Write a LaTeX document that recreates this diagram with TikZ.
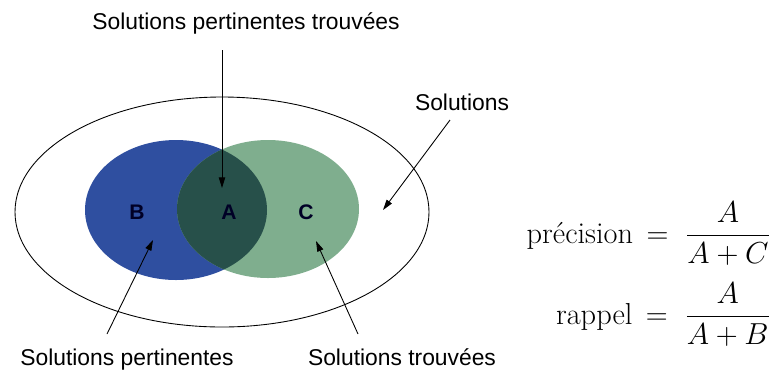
\documentclass[tikz,border=0pt]{standalone}
\usepackage{amsmath}
\usepackage{fontspec}
\newfontfamily\labelfont{Liberation Sans}
\usepackage{tikz}
\usetikzlibrary{arrows.meta}

\definecolor{pertblue}{HTML}{2F4FA0}
\definecolor{trouvgreen}{HTML}{7FAE8E}
\definecolor{bothteal}{HTML}{27504A}

\begin{document}
\begin{tikzpicture}[x=0.02cm, y=-0.02cm,
  lbl/.style={font=\labelfont\fontsize{13}{15}\selectfont, anchor=base},
  letter/.style={font=\labelfont\bfseries\fontsize{12}{14}\selectfont, text=black!85!blue},
  ptr/.style={-{Triangle[length=6pt,width=3.6pt]}, line width=0.5pt, black},
  formula/.style={font=\fontsize{17.28}{20}\selectfont, anchor=base east, inner sep=0pt}
]
\useasboundingbox (0,0) rectangle (773,380);
%% sets
\draw[line width=0.5pt] (222,212) ellipse [x radius=207, y radius=115];
\fill[pertblue]   (176,210) ellipse [x radius=91, y radius=70];
\fill[trouvgreen] (268,209) ellipse [x radius=91, y radius=69];
\begin{scope}
  \clip (176,210) ellipse [x radius=91, y radius=70];
  \fill[bothteal] (268,209) ellipse [x radius=91, y radius=69];
\end{scope}
\node[letter] (b) at (137,212) {B};
\node[letter] (a) at (229,212) {A};
\node[letter] (c) at (306,212) {C};
%% labels
\node[lbl] (perttrouv) at (246,29)  {Solutions pertinentes trouvées};
\node[lbl] (sol)       at (462,110) {Solutions};
\node[lbl] (pert)      at (127,365) {Solutions pertinentes};
\node[lbl] (trouv)     at (402,365) {Solutions trouvées};
\coordinate (tipa)   at (222,188);
\coordinate (tipsol) at (383,210);
\coordinate (tipb)   at (153,240);
\coordinate (tipc)   at (316,241);
\draw[ptr] (222,50)  -- (tipa);
\draw[ptr] (450,120) -- (tipsol);
\draw[ptr] (107,334) -- (tipb);
\draw[ptr] (358,334) -- (tipc);
%% measures
\node[formula] (prec) at (771,243) {précision\,${}={}\;\dfrac{A}{A+C}$};
\node[formula] (rapp) at (771,324) {rappel\,${}={}\;\dfrac{A}{A+B}$};
\end{tikzpicture}
\end{document}
